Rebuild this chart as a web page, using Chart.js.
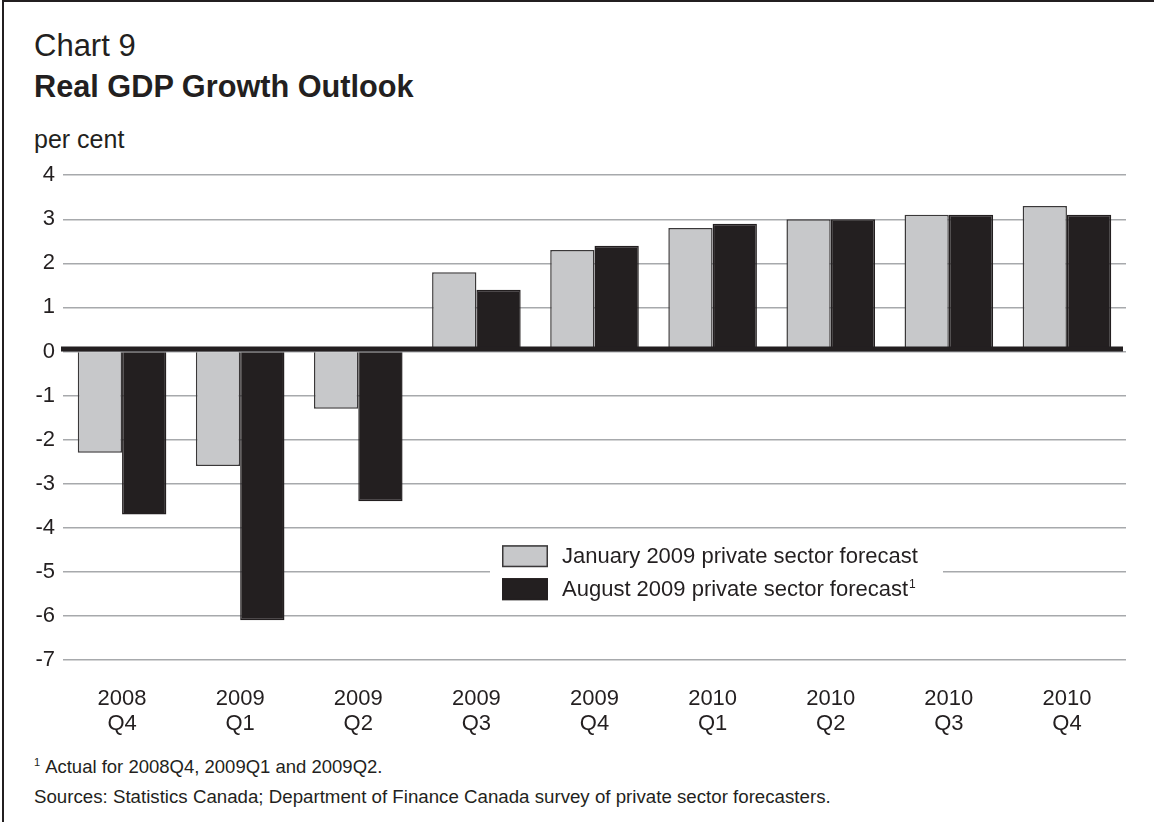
<!DOCTYPE html>
<html>
<head>
<meta charset="utf-8">
<script src="https://cdn.jsdelivr.net/npm/chart.js@4.4.0/dist/chart.umd.min.js"></script>
<style>
  html, body { margin: 0; padding: 0; background: #fff; }
  body {
    width: 1154px; height: 822px; position: relative; overflow: hidden;
    font-family: "Liberation Sans", Arial, Helvetica, sans-serif; color: #231f20;
  }
  .frame { position: absolute; left: 2px; top: 0; right: 0; bottom: 0;
    border-left: 2px solid #231f20; border-top: 2px solid #231f20; }
  .txt { position: absolute; left: 34px; line-height: 1; white-space: nowrap; }
  #kicker { top: 30px; font-size: 31px; }
  #title { top: 72px; font-size: 30.7px; font-weight: bold; }
  #unit { top: 127px; font-size: 25px; }
  #note { top: 757px; font-size: 18.5px; }
  #note sup { font-size: 11px; vertical-align: 7px; margin-right: 5px; }
  #sources { top: 788px; font-size: 18.7px; }
  #wrap { position: absolute; left: 0; top: 154px; width: 1154px; height: 591px; }
</style>
</head>
<body>
<div class="frame"></div>
<div class="txt" id="kicker">Chart 9</div>
<div class="txt" id="title">Real GDP Growth Outlook</div>
<div class="txt" id="unit">per cent</div>
<div id="wrap"><canvas id="chart" width="1154" height="591"></canvas></div>
<div class="txt" id="note"><sup>1</sup>Actual for 2008Q4, 2009Q1 and 2009Q2.</div>
<div class="txt" id="sources">Sources: Statistics Canada; Department of Finance Canada survey of private sector forecasters.</div>

<script>
const quarters = [["2008", "Q4"], ["2009", "Q1"], ["2009", "Q2"], ["2009", "Q3"], ["2009", "Q4"],
  ["2010", "Q1"], ["2010", "Q2"], ["2010", "Q3"], ["2010", "Q4"]]
const januaryForecast = [-2.3, -2.6, -1.3, 1.8, 2.3, 2.8, 3.0, 3.1, 3.3]
const augustForecast = [-3.7, -6.1, -3.4, 1.4, 2.4, 2.9, 3.0, 3.1, 3.1]
const yMin = -7
const yMax = 4

const ink = "#231f20"
const fontFamily = "'Liberation Sans', Arial, Helvetica, sans-serif"

// thick zero line drawn over the bars
const zeroLine = {
  id: "zeroLine",
  afterDatasetsDraw(chart) {
    const { ctx, chartArea, scales } = chart
    const y = scales.y.getPixelForValue(0) - 2.5
    ctx.save()
    ctx.strokeStyle = ink
    ctx.lineWidth = 5
    ctx.beginPath()
    ctx.moveTo(chartArea.left - 2, y)
    ctx.lineTo(chartArea.right - 3, y)
    ctx.stroke()
    ctx.restore()
  }
}

// boxed legend sitting inside the plot, with a white backing over the gridlines
const boxLegend = {
  id: "boxLegend",
  afterDraw(chart) {
    const { ctx, chartArea } = chart
    const left = chartArea.left + 427
    const top = chartArea.top + 359
    ctx.save()
    ctx.fillStyle = "#fff"
    ctx.fillRect(left, top, 453, 79)
    ctx.font = `22px ${fontFamily}`
    ctx.textBaseline = "middle"
    chart.data.datasets.forEach((ds, i) => {
      const bx = left + 12
      const by = top + 11 + i * 33
      ctx.fillStyle = ds.backgroundColor
      ctx.fillRect(bx, by, 46, 22)
      ctx.strokeStyle = ds.borderColor
      ctx.lineWidth = 1.5
      ctx.strokeRect(bx + 0.75, by + 0.75, 44.5, 20.5)
      ctx.fillStyle = ink
      const tx = bx + 60
      const ty = by + 12
      ctx.fillText(ds.label, tx, ty)
      if (ds.note) {
        const w = ctx.measureText(ds.label).width
        ctx.save()
        ctx.font = `12px ${fontFamily}`
        ctx.fillText(ds.note, tx + w + 1, ty - 6)
        ctx.restore()
      }
    })
    ctx.restore()
  }
}

new Chart(document.getElementById("chart"), {
  type: "bar",
  data: {
    labels: quarters,
    datasets: [
      {
        label: "January 2009 private sector forecast",
        data: januaryForecast,
        backgroundColor: "#c7c8ca",
        borderColor: "#3a3839",
        borderWidth: 1.5
      },
      {
        label: "August 2009 private sector forecast",
        note: "1",
        data: augustForecast,
        backgroundColor: ink,
        borderColor: ink,
        borderWidth: 1.5
      }
    ]
  },
  options: {
    responsive: false,
    animation: false,
    devicePixelRatio: 1,
    layout: { padding: { top: 8, right: 28, left: 0, bottom: 0 } },
    plugins: {
      legend: { display: false },
      tooltip: { enabled: false }
    },
    datasets: {
      bar: { categoryPercentage: 0.75, barPercentage: 1 }
    },
    scales: {
      x: {
        border: { display: false },
        grid: { display: false, drawTicks: false },
        ticks: {
          color: ink,
          maxRotation: 0,
          autoSkip: false,
          padding: 26,
          font: { size: 22, family: fontFamily, lineHeight: 1.15 }
        },
        afterFit(scale) { scale.height = 85 }
      },
      y: {
        min: yMin,
        max: yMax,
        border: { display: false },
        grid: { color: "#a7a9ac", lineWidth: 1.5, drawTicks: false },
        ticks: {
          stepSize: 1,
          color: ink,
          padding: 8,
          font: { size: 22, family: fontFamily },
          callback: (v) => String(v)
        },
        afterFit(scale) { scale.width = 63 }
      }
    }
  },
  plugins: [zeroLine, boxLegend]
})
</script>
</body>
</html>
